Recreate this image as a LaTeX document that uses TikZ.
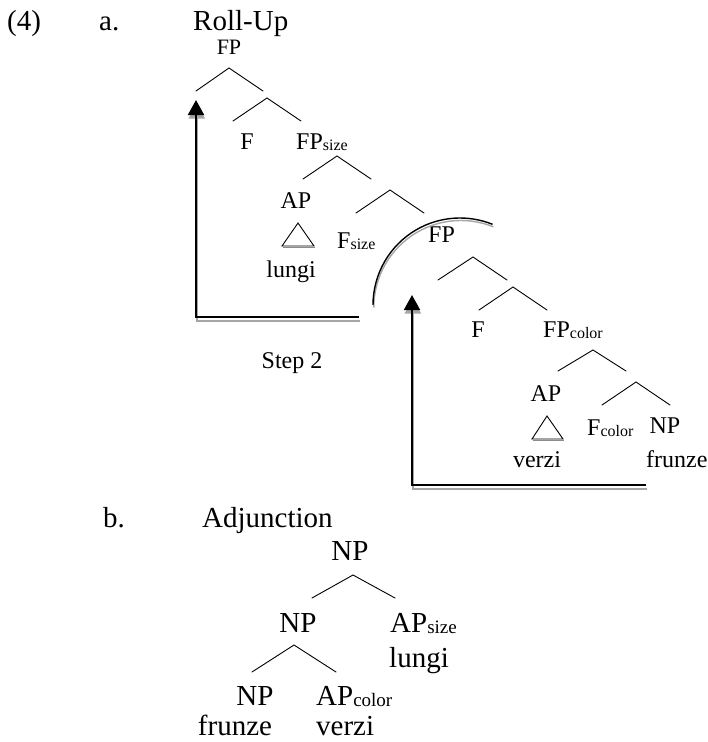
\documentclass[tikz,border=0pt]{standalone}
\usepackage{fontspec}
\setmainfont{Liberation Serif}
\usetikzlibrary{arrows.meta}
% small subscripts for the category labels
\newcommand\subsA[1]{{\fontsize{16}{18}\selectfont\raisebox{-1pt}{#1}}}
\newcommand\subsB[1]{{\fontsize{19}{22}\selectfont\raisebox{-1.5pt}{#1}}}
\begin{document}
\begin{tikzpicture}[x=1pt,y=-1pt,
  head/.style={font=\fontsize{29}{34}\selectfont, inner sep=0pt, anchor=base west},
  la/.style={font=\fontsize{24}{28}\selectfont, inner sep=0pt, anchor=base},
  law/.style={la, anchor=base west},
  lb/.style={font=\fontsize{29}{34}\selectfont, inner sep=0pt, anchor=base},
  lbw/.style={lb, anchor=base west},
  branch/.style={line width=0.9pt, line cap=round},
  tri/.style={line width=0.9pt, line join=miter},
  movepath/.style={line width=2pt, -{Triangle[length=15pt,width=16pt]}},
  moveshadow/.style={movepath, draw=black!35, transform canvas={shift={(0.8pt,-3.5pt)}}},
  arcline/.style={line width=1.4pt},
  arcshadow/.style={arcline, draw=black!35, transform canvas={shift={(0.8pt,-2.5pt)}}}
]
\useasboundingbox (0,0) rectangle (708,742);

% ---------- headings ----------
\node[head] (num)    at (7,30)   {(4)};
\node[head] (ia)     at (99,30)  {a.};
\node[head] (titleA) at (193,30) {Roll-Up};
\node[head] (ib)     at (103,527) {b.};
\node[head] (titleB) at (202,527) {Adjunction};

% ---------- (a) roll-up tree: labels ----------
\node[la, font=\fontsize{22}{26}\selectfont] (fp0) at (229,54) {FP};
\node[la]  (f1)      at (247,149) {F};
\node[law] (fpsize)  at (296,149) {FP\subsA{size}};
\node[la]  (ap1)     at (296,208) {AP};
\node[la]  (lungiA)  at (291,277) {lungi};
\node[law] (fsize)   at (337,248) {F\subsA{size}};
\node[law] (fp2)     at (428,242) {FP};
\node[la]  (f2)      at (478,337) {F};
\node[law] (fpcolor) at (543,337) {FP\subsA{color}};
\node[la]  (ap2)     at (546,401) {AP};
\node[la]  (verziA)  at (537,467) {verzi};
\node[law] (fcolor)  at (587,435) {F\subsA{color}};
\node[la]  (npA)     at (665,433) {NP};
\node[law] (frunzeA) at (646,467) {frunze};
\node[la]  (step)    at (292,368) {Step 2};

% ---------- (a) branch points ----------
\coordinate (a1) at (229,68);  \coordinate (a1l) at (196,91);  \coordinate (a1r) at (263,91);
\coordinate (a2) at (267,98);  \coordinate (a2l) at (233,121); \coordinate (a2r) at (301,121);
\coordinate (a3) at (337,156); \coordinate (a3l) at (303,179); \coordinate (a3r) at (371,179);
\coordinate (a4) at (390,190); \coordinate (a4l) at (356,213); \coordinate (a4r) at (424,213);
\coordinate (a5) at (473,257); \coordinate (a5l) at (438,280); \coordinate (a5r) at (507,280);
\coordinate (a6) at (513,287); \coordinate (a6l) at (479,310); \coordinate (a6r) at (547,310);
\coordinate (a7) at (593,350); \coordinate (a7l) at (558,371); \coordinate (a7r) at (626,371);
\coordinate (a8) at (636,382); \coordinate (a8l) at (602,405); \coordinate (a8r) at (670,405);
\foreach \b in {a1,a2,a3,a4,a5,a6,a7,a8}
  \draw[branch] (\b l) -- (\b) -- (\b r);

% triangles over the adjective phrases
\coordinate (t1) at (298,223); \coordinate (t1l) at (282,246); \coordinate (t1r) at (314,246);
\coordinate (t2) at (547,416); \coordinate (t2l) at (532,439); \coordinate (t2r) at (563,439);
\draw[tri, black!45, transform canvas={shift={(0.5pt,-1pt)}}] (t1l) -- (t1r);
\draw[tri, black!45, transform canvas={shift={(0.5pt,-1pt)}}] (t2l) -- (t2r);
\draw[tri] (t1) -- (t1l) -- (t1r) -- cycle;
\draw[tri] (t2) -- (t2l) -- (t2r) -- cycle;

% ---------- movement arrows ----------
\coordinate (mvAstart)  at (359,317);
\coordinate (mvAcorner) at (196,317);
\coordinate (mvAtip)    at (196,100);
\coordinate (mvBstart)  at (646,485);
\coordinate (mvBcorner) at (412,485);
\coordinate (mvBtip)    at (412,295);
\draw[moveshadow] (mvAstart) -- (mvAcorner) -- (mvAtip);
\draw[moveshadow] (mvBstart) -- (mvBcorner) -- (mvBtip);
\draw[movepath] (mvAstart) -- (mvAcorner) -- (mvAtip);
\draw[movepath] (mvBstart) -- (mvBcorner) -- (mvBtip);

% arc marking the moved constituent
\coordinate (arcStart) at (373,305);
\draw[arcshadow] (arcStart) arc[start angle=180, end angle=292, radius=87];
\draw[arcline] (arcStart) arc[start angle=180, end angle=292, radius=87];

% ---------- (b) adjunction tree ----------
\node[lb]  (npTop)   at (350,560) {NP};
\node[lb]  (npMid)   at (298,632) {NP};
\node[lbw] (apsize)  at (390,632) {AP\subsB{size}};
\node[lbw] (lungiB)  at (389,667) {lungi};
\node[lb]  (npLow)   at (255,705) {NP};
\node[lbw] (apcolor) at (316,705) {AP\subsB{color}};
\node[lb]  (frunzeB) at (235,735) {frunze};
\node[lbw] (verziB)  at (316,735) {verzi};

\coordinate (b1) at (353,575); \coordinate (b1l) at (312,598); \coordinate (b1r) at (395,598);
\coordinate (b2) at (294,645); \coordinate (b2l) at (252,672); \coordinate (b2r) at (336,672);
\foreach \b in {b1,b2}
  \draw[branch] (\b l) -- (\b) -- (\b r);
\end{tikzpicture}
\end{document}
